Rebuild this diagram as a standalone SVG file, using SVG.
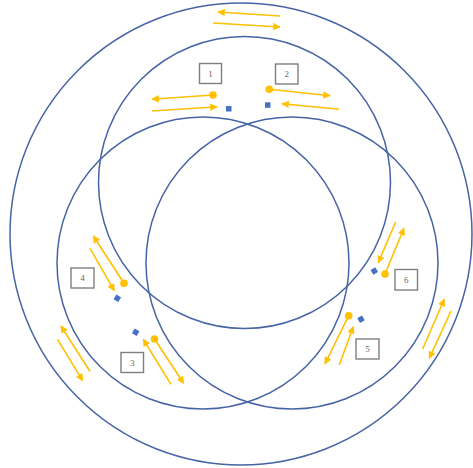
<svg xmlns="http://www.w3.org/2000/svg" width="473" height="468" viewBox="0 0 473 468">
<defs>
<marker id="ah" viewBox="0 0 10 10" refX="9" refY="5" markerWidth="8" markerHeight="7.5" markerUnits="userSpaceOnUse" orient="auto">
<path d="M0,0 L10,5 L0,10 z" fill="#FFC000"/>
</marker>
</defs>
<style>
.ring{fill:none;stroke:#4664a4;stroke-width:1.5}
.box{fill:#fff;stroke:#7f7f7f;stroke-width:1.4}
.lbl{font-family:"Liberation Serif",serif;font-size:9px;fill:#666;text-anchor:middle}
.arr{stroke:#FFC000;stroke-width:1.6;fill:none;marker-end:url(#ah)}
.dot{fill:#FFC000}
.sq{fill:#4472C4}
</style>
<rect width="473" height="468" fill="#fff"/>
<g id="rings">
<circle class="ring" cx="241" cy="234" r="231"/>
<circle class="ring" cx="244.5" cy="182.5" r="146"/>
<circle class="ring" cx="203" cy="263" r="146"/>
<circle class="ring" cx="292" cy="263" r="146"/>
</g>
<g id="connectors">
<line class="arr" x1="280" y1="16" x2="218" y2="12"/>
<line class="arr" x1="213" y1="23" x2="280" y2="27"/>
<line class="arr" x1="213" y1="95" x2="152" y2="99.3"/>
<line class="arr" x1="152" y1="111" x2="217" y2="106.7"/>
<line class="arr" x1="269.3" y1="89.3" x2="330" y2="95.7"/>
<line class="arr" x1="339" y1="109.3" x2="282" y2="103.7"/>
<line class="arr" x1="124" y1="283.3" x2="93.3" y2="236"/>
<line class="arr" x1="90" y1="248.3" x2="114.3" y2="290.7"/>
<line class="arr" x1="154.5" y1="339" x2="183.7" y2="383.3"/>
<line class="arr" x1="171" y1="384.3" x2="143.3" y2="339.3"/>
<line class="arr" x1="90" y1="371.5" x2="61" y2="326"/>
<line class="arr" x1="57.5" y1="339.3" x2="82.7" y2="380.7"/>
<line class="arr" x1="395.7" y1="221.7" x2="378.3" y2="262.7"/>
<line class="arr" x1="385" y1="274" x2="404" y2="228.3"/>
<line class="arr" x1="348.7" y1="315.7" x2="325" y2="364"/>
<line class="arr" x1="339.3" y1="365" x2="353.3" y2="326.7"/>
<line class="arr" x1="422.7" y1="349" x2="444.3" y2="299.3"/>
<line class="arr" x1="451" y1="311" x2="429.3" y2="358.3"/>
</g>
<g id="markers">
<circle class="dot" cx="213" cy="95" r="3.8"/>
<circle class="dot" cx="269.3" cy="89.3" r="3.8"/>
<circle class="dot" cx="124" cy="283.3" r="3.8"/>
<circle class="dot" cx="154.5" cy="339" r="3.8"/>
<circle class="dot" cx="385" cy="274" r="3.8"/>
<circle class="dot" cx="348.7" cy="315.7" r="3.8"/>
<rect class="sq" x="226" y="106" width="5.5" height="5.5"/>
<rect class="sq" x="265" y="102.3" width="5.5" height="5.5"/>
<rect class="sq" x="-2.75" y="-2.75" width="5.5" height="5.5" transform="translate(117.3 298.3) rotate(30)"/>
<rect class="sq" x="-2.75" y="-2.75" width="5.5" height="5.5" transform="translate(135.7 332.3) rotate(30)"/>
<rect class="sq" x="-2.75" y="-2.75" width="5.5" height="5.5" transform="translate(374.3 271) rotate(-30)"/>
<rect class="sq" x="-2.75" y="-2.75" width="5.5" height="5.5" transform="translate(361 319.3) rotate(-30)"/>
</g>
<g id="node1"><rect class="box" x="199.5" y="63.5" width="22" height="20"/><text class="lbl" x="210.5" y="76.5">1</text></g>
<g id="node2"><rect class="box" x="275.5" y="64" width="22.5" height="20"/><text class="lbl" x="286.7" y="77">2</text></g>
<g id="node3"><rect class="box" x="121" y="352.5" width="22.5" height="20"/><text class="lbl" x="132.2" y="365.5">3</text></g>
<g id="node4"><rect class="box" x="71" y="268" width="23" height="20"/><text class="lbl" x="82.5" y="281">4</text></g>
<g id="node5"><rect class="box" x="356" y="339" width="23" height="20"/><text class="lbl" x="367.5" y="352">5</text></g>
<g id="node6"><rect class="box" x="395" y="269.5" width="22.5" height="20.5"/><text class="lbl" x="406.2" y="282.5">6</text></g>
</svg>
